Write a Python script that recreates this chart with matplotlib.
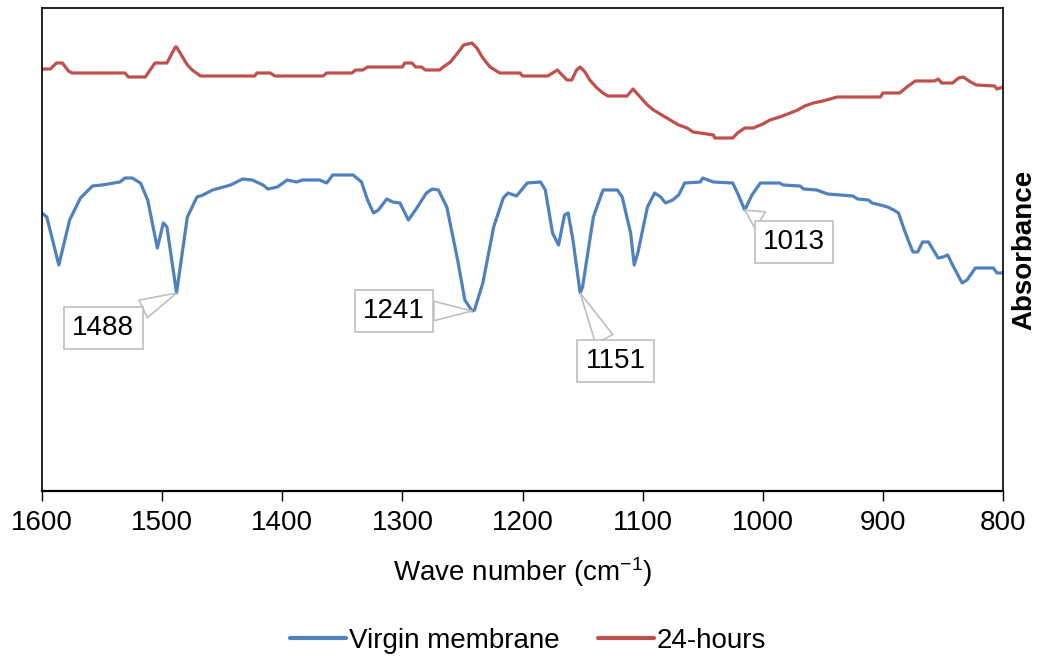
import numpy as np
import matplotlib
matplotlib.use("Agg")
import matplotlib.pyplot as plt

# ---------------- data ----------------
virgin_wn = [1600, 1596, 1586, 1577, 1568, 1558, 1550, 1535, 1531, 1525, 1518, 1512, 1504, 1499,
             1496, 1488, 1479, 1471, 1466, 1458, 1443, 1433, 1425, 1416, 1412, 1404, 1396, 1388,
             1383, 1369, 1363, 1358, 1341, 1334, 1329, 1324, 1320, 1313, 1308, 1302, 1295, 1288,
             1280, 1275, 1270, 1263, 1254, 1248, 1242, 1240, 1233, 1224, 1216, 1212, 1205, 1196,
             1185, 1181, 1175, 1170, 1165, 1162, 1158, 1152, 1150, 1141, 1133, 1121, 1117, 1110,
             1107, 1104, 1096, 1090, 1085, 1081, 1075, 1070, 1065, 1052, 1050, 1041, 1025, 1021,
             1015, 1009, 1002, 986, 983, 969, 966, 955, 946, 925, 921, 912, 909, 902, 896, 891,
             887, 883, 879, 875, 871, 867, 862, 858, 854, 850, 846, 842, 834, 830, 823, 808, 805, 800]
virgin_abs = [2.78, 2.74, 2.26, 2.71, 2.93, 3.05, 3.06, 3.09, 3.13, 3.13, 3.08, 2.91, 2.43, 2.68,
              2.64, 1.98, 2.74, 2.94, 2.96, 3.01, 3.06, 3.12, 3.11, 3.06, 3.02, 3.04, 3.11, 3.09,
              3.11, 3.11, 3.08, 3.16, 3.16, 3.09, 2.91, 2.78, 2.81, 2.92, 2.89, 2.88, 2.71, 2.83,
              2.98, 3.02, 3.01, 2.84, 2.31, 1.91, 1.80, 1.81, 2.08, 2.64, 2.93, 2.98, 2.95, 3.08,
              3.09, 3.01, 2.58, 2.46, 2.76, 2.78, 2.51, 1.98, 2.04, 2.74, 3.01, 3.01, 2.94, 2.58,
              2.26, 2.38, 2.84, 2.98, 2.94, 2.88, 2.91, 2.96, 3.08, 3.09, 3.13, 3.09, 3.08, 2.98,
              2.81, 2.96, 3.08, 3.08, 3.06, 3.05, 3.02, 3.01, 2.97, 2.95, 2.92, 2.91, 2.88, 2.86,
              2.84, 2.81, 2.78, 2.64, 2.51, 2.39, 2.39, 2.49, 2.49, 2.41, 2.33, 2.34, 2.36, 2.26,
              2.08, 2.11, 2.23, 2.23, 2.18, 2.18]

h24_wn = [1600, 1593, 1588, 1583, 1578, 1575, 1531, 1528, 1514, 1506, 1496, 1489, 1488, 1479,
          1475, 1468, 1423, 1421, 1410, 1406, 1366, 1363, 1342, 1339, 1333, 1329, 1300, 1298,
          1292, 1289, 1284, 1281, 1269, 1266, 1260, 1254, 1249, 1242, 1238, 1233, 1227, 1223,
          1219, 1202, 1200, 1179, 1175, 1171, 1167, 1163, 1159, 1155, 1152, 1148, 1144, 1138,
          1133, 1129, 1113, 1108, 1102, 1096, 1091, 1084, 1077, 1070, 1063, 1058, 1052, 1041,
          1040, 1025, 1021, 1015, 1008, 1004, 1000, 994, 986, 977, 971, 965, 958, 950, 938,
          902, 900, 886, 880, 873, 857, 854, 851, 842, 837, 833, 827, 822, 807, 805, 800]
h24_abs = [4.22, 4.22, 4.28, 4.28, 4.20, 4.18, 4.18, 4.14, 4.14, 4.28, 4.28, 4.44, 4.44, 4.26,
           4.21, 4.15, 4.15, 4.18, 4.18, 4.15, 4.15, 4.18, 4.18, 4.21, 4.21, 4.24, 4.24, 4.28,
           4.28, 4.24, 4.24, 4.21, 4.21, 4.24, 4.29, 4.38, 4.46, 4.48, 4.43, 4.33, 4.24, 4.21,
           4.18, 4.18, 4.15, 4.15, 4.18, 4.21, 4.16, 4.11, 4.11, 4.21, 4.24, 4.19, 4.11, 4.03,
           3.98, 3.95, 3.95, 4.02, 3.94, 3.86, 3.81, 3.76, 3.71, 3.66, 3.63, 3.59, 3.58, 3.56,
           3.53, 3.53, 3.58, 3.63, 3.63, 3.65, 3.67, 3.71, 3.74, 3.78, 3.81, 3.85, 3.88, 3.90,
           3.94, 3.94, 3.98, 3.98, 4.04, 4.10, 4.10, 4.12, 4.08, 4.08, 4.13, 4.14, 4.09, 4.06,
           4.05, 4.02, 4.04]

peak_labels = [1488, 1241, 1151, 1013]
x_ticks = [1600, 1500, 1400, 1300, 1200, 1100, 1000, 900, 800]
series_names = ["Virgin membrane", "24-hours"]

# ---------------- style ----------------
plt.rcParams['font.family'] = ['Liberation Sans', 'DejaVu Sans']
plt.rcParams['mathtext.fontset'] = 'custom'
plt.rcParams['mathtext.rm'] = 'Liberation Sans'
plt.rcParams['mathtext.it'] = 'Liberation Sans:italic'
plt.rcParams['mathtext.bf'] = 'Liberation Sans:bold'

BLUE = '#4F81BD'
RED = '#C0504D'
FS = 20

fig = plt.figure(figsize=(10.38, 6.59), dpi=100)
ax = fig.add_axes([42 / 1038, 1 - 491 / 659, (1003 - 42) / 1038, (491 - 8) / 659])

ax.plot(virgin_wn, virgin_abs, color=BLUE, lw=2.3, label=series_names[0],
        solid_joinstyle='round', solid_capstyle='round')
ax.plot(h24_wn, h24_abs, color=RED, lw=2.3, label=series_names[1],
        solid_joinstyle='round', solid_capstyle='round')

ax.set_xlim(1600, 800)
ax.set_ylim(0, 4.83)
ax.set_xticks(x_ticks)
ax.set_xticklabels([str(t) for t in x_ticks], fontsize=FS)
ax.tick_params(axis='x', direction='out', length=7.5, width=1, pad=6, colors='black')
ax.set_yticks([])
for s in ax.spines.values():
    s.set_color('black')
    s.set_linewidth(1.2)
ax.spines['bottom'].set_linewidth(1.6)

ax.set_xlabel('Wave number (cm$^{\\mathregular{-1}}$)', fontsize=FS, labelpad=14)
ax.yaxis.set_label_position('right')
ax.set_ylabel('Absorbance', fontsize=FS, fontweight='bold', labelpad=6)

# callouts: box centres given in (wavenumber, absorbance) of the axes
box_pos = {1488: (1549, 1.63), 1241: (1307, 1.80), 1151: (1122.5, 1.30), 1013: (974, 2.49)}
vw = np.array(virgin_wn)
va = np.array(virgin_abs)
for lab in peak_labels:
    idx = np.argsort(np.abs(vw - lab))[:3]
    i = idx[np.argmin(va[idx])]
    ax.annotate(str(lab), xy=(vw[i], va[i]), xytext=box_pos[lab], textcoords='data',
                fontsize=FS, ha='center', va='center', zorder=5,
                bbox=dict(boxstyle='square,pad=0.3', fc='white', ec='#BFBFBF', lw=1.2),
                arrowprops=dict(arrowstyle='wedge,tail_width=0.7', fc='white', ec='#BFBFBF',
                                lw=1.2, shrinkA=0, shrinkB=0))

leg = fig.legend(loc='center', bbox_to_anchor=(528 / 1038, 1 - 641 / 659), ncol=2, frameon=False,
                 fontsize=FS, handlelength=2.0, handletextpad=0.1, columnspacing=1.4)
for h in leg.get_lines():
    h.set_linewidth(3)

fig.savefig('out.png', dpi=100)
